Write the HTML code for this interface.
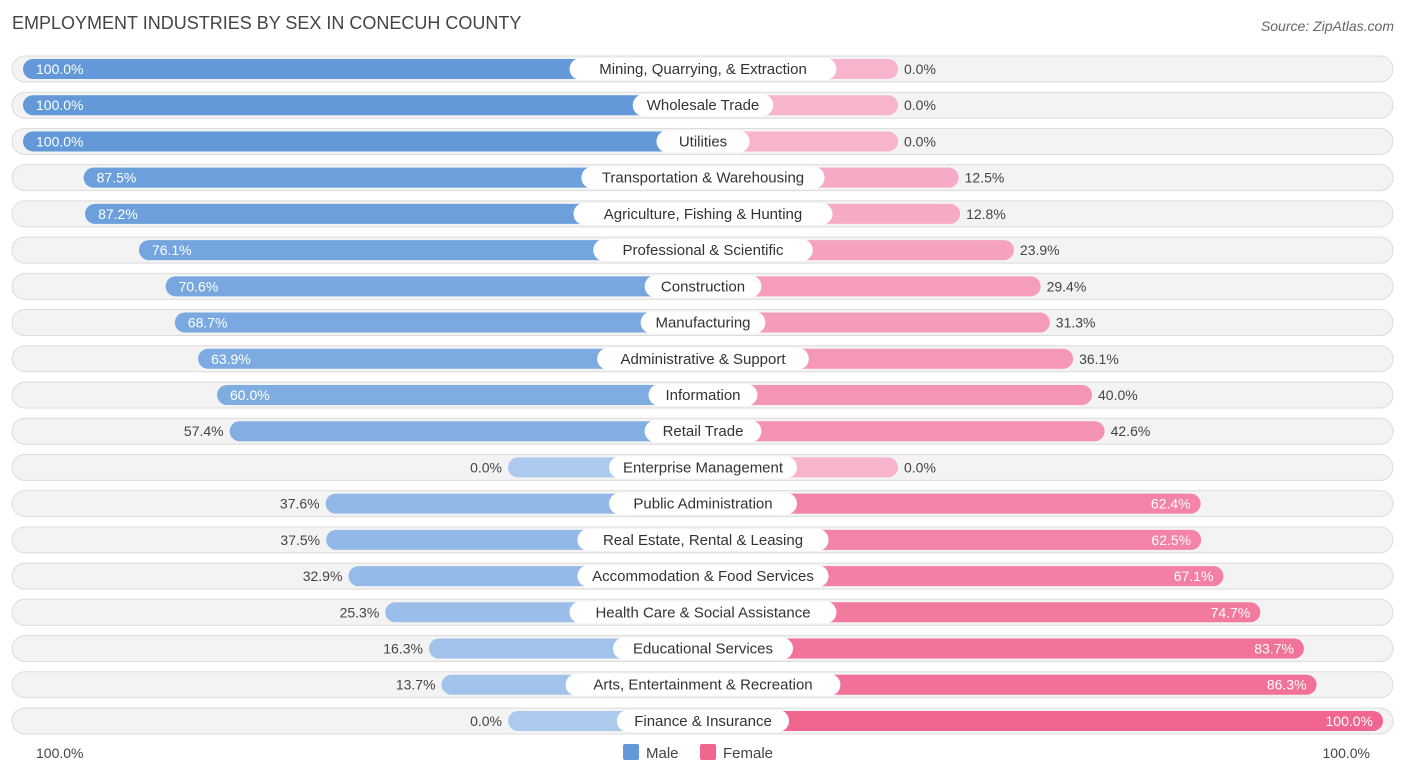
<!DOCTYPE html>
<html><head><meta charset="utf-8"><style>
body{margin:0;background:#fff;font-family:"Liberation Sans",sans-serif;}
svg text{font-family:"Liberation Sans",sans-serif;}
</style></head><body>
<svg id="c" width="1406" height="777">
<text x="12" y="29" font-size="18" fill="#444">EMPLOYMENT INDUSTRIES BY SEX IN CONECUH COUNTY</text>
<text x="1394" y="31" font-size="14" fill="#666" font-style="italic" text-anchor="end">Source: ZipAtlas.com</text>
<g id="rows"></g>
<text x="36" y="758" font-size="14" fill="#444">100.0%</text>
<text x="1370" y="758" font-size="14" fill="#444" text-anchor="end">100.0%</text>
<rect x="623" y="744" width="16" height="16" rx="2" fill="#6399d9"/>
<text x="646" y="758" font-size="15" fill="#444">Male</text>
<rect x="700" y="744" width="16" height="16" rx="2" fill="#f06690"/>
<text x="723" y="758" font-size="15" fill="#444">Female</text>
</svg>
<script>
const categories=["Mining, Quarrying, & Extraction","Wholesale Trade","Utilities","Transportation & Warehousing","Agriculture, Fishing & Hunting","Professional & Scientific","Construction","Manufacturing","Administrative & Support","Information","Retail Trade","Enterprise Management","Public Administration","Real Estate, Rental & Leasing","Accommodation & Food Services","Health Care & Social Assistance","Educational Services","Arts, Entertainment & Recreation","Finance & Insurance"];
const maleValues=[100,100,100,87.5,87.2,76.1,70.6,68.7,63.9,60.0,57.4,0,37.6,37.5,32.9,25.3,16.3,13.7,0];
const femaleValues=[0,0,0,12.5,12.8,23.9,29.4,31.3,36.1,40.0,42.6,0,62.4,62.5,67.1,74.7,83.7,86.3,100];
const NS="http://www.w3.org/2000/svg";
const g=document.getElementById('rows');
const cx=703, y0=69, step=36.22, scale=4.85, stub=195;
function mx(v){return cx-stub-v*scale;}
function fx(v){return cx+stub+v*scale;}
function mix(a,b,t){return 'rgb('+a.map((x,i)=>Math.round(x+(b[i]-x)*t)).join(',')+')';}
function el(t,a){const e=document.createElementNS(NS,t);for(const k in a)e.setAttribute(k,a[k]);g.appendChild(e);return e;}
categories.forEach((cat,i)=>{
  const y=y0+i*step, m=maleValues[i], f=femaleValues[i];
  const bg=el('rect',{x:12,y:y-13,width:1381,height:26,rx:13,fill:'#f3f3f3',stroke:'#dcdcdc','stroke-width':1});
  
  
  const mb=el('rect',{x:mx(m),y:y-10,width:cx-mx(m),height:20,rx:10,fill:mix([172,202,238],[99,153,217],m/100)});
  
  
  const fb=el('rect',{x:cx,y:y-10,width:fx(f)-cx,height:20,rx:10,fill:mix([248,180,204],[240,102,144],f/100)});
  
  
  const w=cat.length*7.9+22;
  const lb=el('rect',{x:cx-w/2,y:y-11,width:w,height:22,rx:11,fill:'#fff'});
  
  
  const lt=el('text',{x:cx,y:y+5,'font-size':15,fill:'#333','text-anchor':'middle'});lt.textContent=cat;
  
  
  const mIn=m>=60;
  const mt=el('text',{x:mIn?mx(m)+13:mx(m)-6,y:y+5,'font-size':14,fill:mIn?'#fff':'#444','text-anchor':mIn?'start':'end'});mt.textContent=m.toFixed(1)+'%';
  
  
  const fIn=f>=60;
  const ft=el('text',{x:fIn?fx(f)-10:fx(f)+6,y:y+5,'font-size':14,fill:fIn?'#fff':'#444','text-anchor':fIn?'end':'start'});ft.textContent=f.toFixed(1)+'%';
  
  
});
</script>
</body></html>
